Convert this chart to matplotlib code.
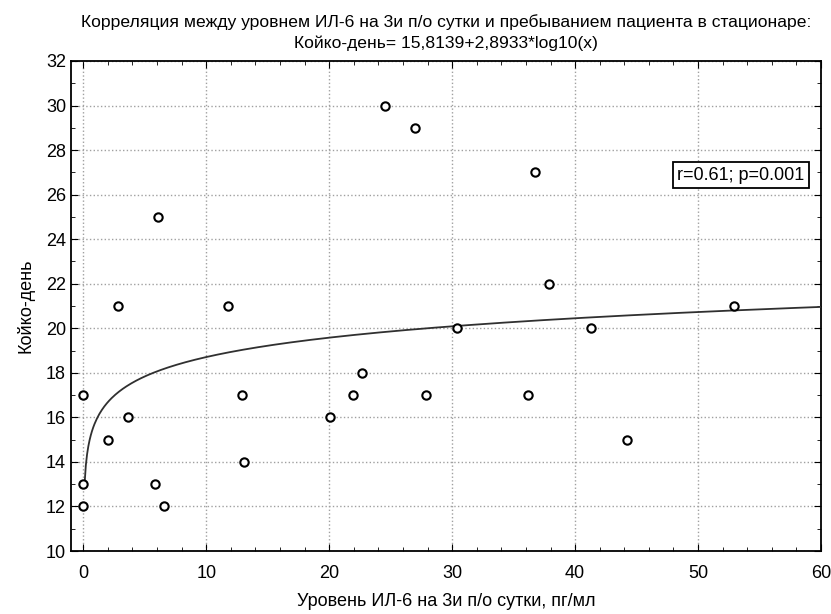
import numpy as np
import matplotlib.pyplot as plt
from matplotlib.ticker import MultipleLocator

# data
il6 = [0, 0, 0, 2.0, 2.8, 3.6, 5.8, 6.1, 6.6, 11.8, 12.9, 13.1,
       20.1, 21.9, 22.7, 24.5, 27.0, 27.9, 30.4, 36.2, 36.7, 37.9,
       41.3, 44.2, 52.9]
days = [17, 13, 12, 15, 21, 16, 13, 25, 12, 21, 17, 14,
        16, 17, 18, 30, 29, 17, 20, 17, 27, 22,
        20, 15, 21]

a, b = 15.8139, 2.8933
x_fit = np.linspace(0.11, 60, 600)
y_fit = a + b * np.log10(x_fit)

title = ("Корреляция между уровнем ИЛ-6 на 3и п/о сутки и пребыванием пациента в стационаре:\n"
         "Койко-день= 15,8139+2,8933*log10(x)")

plt.rcParams['font.family'] = ['Liberation Sans', 'DejaVu Sans']

fig = plt.figure(figsize=(8.31, 6.14), dpi=100)
ax = fig.add_axes([0.0854, 0.1026, 0.9026, 0.7981])

ax.plot(x_fit, y_fit, color='#303030', lw=1.3, zorder=3)
ax.plot(il6, days, 'o', ms=6, mfc='white', mec='black', mew=1.5, zorder=4)

ax.set_xlim(-1.0, 60)
ax.set_ylim(10, 32)
ax.xaxis.set_major_locator(MultipleLocator(10))
ax.xaxis.set_minor_locator(MultipleLocator(2))
ax.yaxis.set_major_locator(MultipleLocator(2))
ax.yaxis.set_minor_locator(MultipleLocator(1))
ax.tick_params(which='both', direction='in', top=True, right=True, labelsize=13)
ax.tick_params(which='major', length=5)
ax.tick_params(which='minor', length=3)
ax.tick_params(axis='x', which='major', pad=10)
ax.grid(True, which='major', color='#a0a0a0', ls=':', lw=1)
for s in ax.spines.values():
    s.set_linewidth(1.3)

ax.set_xlabel('Уровень ИЛ-6 на 3и п/о сутки, пг/мл', fontsize=13, labelpad=8)
ax.set_ylabel('Койко-день', fontsize=13, labelpad=8)
ax.set_title(title, fontsize=12.6, pad=9, linespacing=1.45)

ax.text(0.978, 0.767, 'r=0.61; p=0.001', transform=ax.transAxes, fontsize=13,
        ha='right', va='center',
        bbox=dict(boxstyle='square,pad=0.25', fc='white', ec='black', lw=1.3))

fig.savefig('out.png', dpi=100)
